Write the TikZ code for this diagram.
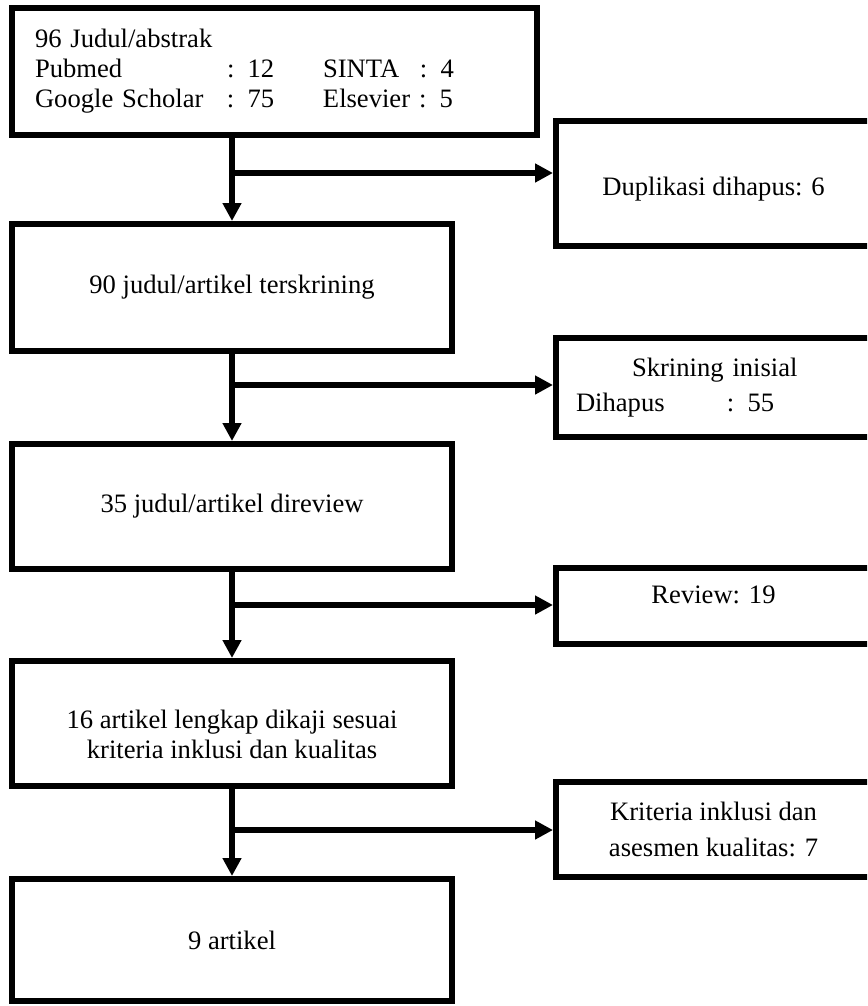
\documentclass[tikz,border=0pt]{standalone}
\usepackage{fontspec}
\setmainfont{Liberation Serif}
\usetikzlibrary{arrows.meta,positioning}

\begin{document}
\begin{tikzpicture}[
    x=1pt, y=-1pt,
    every node/.style={font=\fontsize{26.6pt}{30pt}\selectfont},
    stage/.style={draw,line width=6pt,inner sep=0pt,minimum width=440pt,minimum height=125pt},
    excluded/.style={draw,line width=6pt,inner sep=0pt,minimum width=315pt},
    flow/.style={line width=6pt,-{Triangle[length=18pt,width=18pt]}}
]
    \useasboundingbox (0,0) rectangle (867,1006);
    \clip (0,0) rectangle (867,1006);

    % Stages (left column)
    \node[stage,minimum width=525pt,minimum height=127pt,text width=479pt,inner xsep=23pt,align=left] (B1) at (274.5,71.5)
        {96 Judul/abstrak\\
         \makebox[192pt][l]{Pubmed}\makebox[96pt][l]{: 12}\makebox[97pt][l]{SINTA}: 4\\
         \makebox[192pt][l]{Google Scholar}\makebox[96pt][l]{: 75}Elsevier : 5};
    \node[stage,minimum height=127pt] (B2) at (232,287.5) {90 judul/artikel terskrining};
    \node[stage] (B3) at (232,506.5) {35 judul/artikel direview};
    \node[stage] (B4) at (232,723.5) {};
    \node[inner sep=0pt,anchor=north,align=center] (T4) at (232,709.8)
        {16 artikel lengkap dikaji sesuai\\kriteria inklusi dan kualitas};
    \node[stage,minimum height=122pt] (B5) at (232,940) {9 artikel};

    % Removed records (right column, cut by the page edge)
    \node[excluded,minimum height=124pt,text height=23pt,text depth=0pt] (D1) at (713.5,183.5) {Duplikasi dihapus: 6};
    \node[excluded,minimum height=99pt,text width=275pt,inner xsep=20pt,align=left,
          font=\fontsize{26.6pt}{35pt}\selectfont] (D2) at (713.5,387.5)
        {\hspace*{56pt}Skrining inisial\\\makebox[151pt][l]{Dihapus}: 55};
    \node[excluded,minimum height=76pt,text height=18pt,text depth=24pt] (D3) at (713.5,606) {Review: 19};
    \node[excluded,minimum height=95pt,align=center,
          font=\fontsize{26.6pt}{36pt}\selectfont] (D4) at (713.5,829.5)
        {Kriteria inklusi dan\\asesmen kualitas: 7};

    % Branch points on the main line
    \coordinate (J1) at (232,173);
    \coordinate (J2) at (232,385);
    \coordinate (J3) at (232,605);
    \coordinate (J4) at (232,830);

    % Main flow
    \draw[flow] (B2.north |- B1.south) -- (B2.north);
    \draw[flow] (B2.south) -- (B3.north);
    \draw[flow] (B3.south) -- (B4.north);
    \draw[flow] (B4.south) -- (B5.north);

    % Side arrows
    \draw[flow] (J1) -- (J1 -| D1.west);
    \draw[flow] (J2) -- (J2 -| D2.west);
    \draw[flow] (J3) -- (J3 -| D3.west);
    \draw[flow] (J4) -- (J4 -| D4.west);
\end{tikzpicture}
\end{document}
